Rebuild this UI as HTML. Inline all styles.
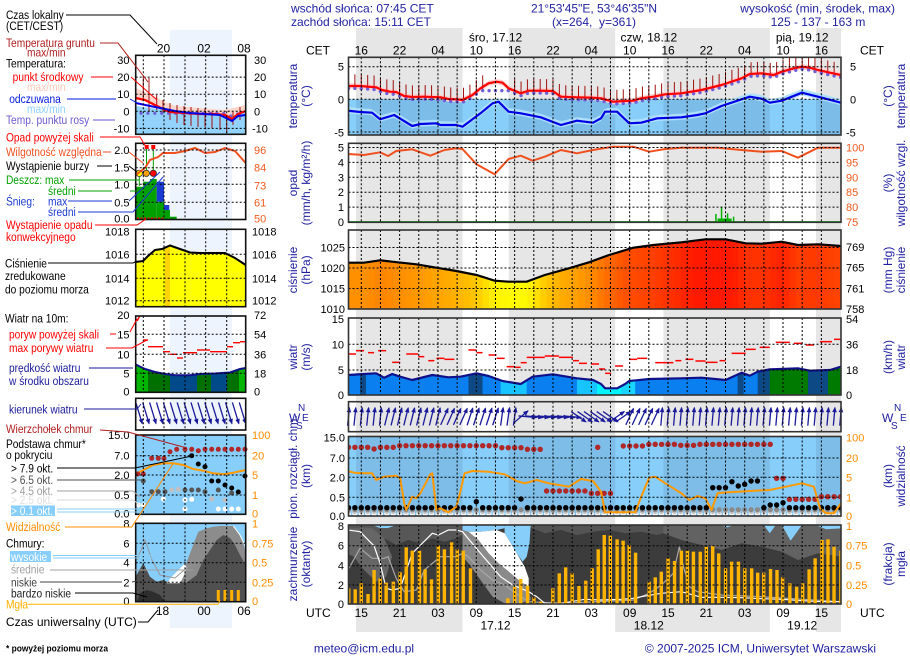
<!DOCTYPE html>
<html><head><meta charset="utf-8">
<style>
html,body{margin:0;padding:0;background:#fff;}
svg{display:block;font-family:"Liberation Sans",Arial,sans-serif;}
.nv{fill:#1f1f9f;font-size:12px}
.tk{font-size:11px;fill:#000}
.hr{font-size:12px;fill:#000}
</style></head><body>
<svg id="s" width="910" height="660" viewBox="0 0 910 660" xmlns="http://www.w3.org/2000/svg">
<defs id="defs">
<clipPath id="cMW"><polygon points="135.7,364.5 145,369 155,372 165,374 175,375.3 190,375.3 200,374 215,373.5 230,372.5 240,369 245.7,368 245.7,392.3 135.7,392.3"/></clipPath>
<clipPath id="cMP"><polygon points="135.7,262 143,261 148,256 155,250 162,249 170,245.5 180,249 190,252.5 200,253 225,253 235,258 245.7,265 245.7,306.7 135.7,306.7"/></clipPath>
</defs>
<g id="bg"><rect x="170" y="30" width="62" height="598" fill="#edf4fd"/></g>
<g id="data"></g>
<g id="mini">
<!-- mini temperature -->
<polygon points="135.7,88 150,94 165,102 175,106 200,108 225,110 245.7,105 245.7,112 238,115 232,120 225,116 215,115 200,115 185,114 170,113 165,111 155,106 145,101 135.7,99" fill="#ffd6cc"/>
<polygon points="135.7,106 150,108 165,110 180,112 200,113 225,114 232,119 238,115 245.7,111 245.7,134.3 135.7,134.3" fill="#93d3fb"/>
<g stroke="#a01010" stroke-width="1">
<line x1="143.3" y1="77" x2="143.3" y2="100"/><line x1="149" y1="78" x2="149" y2="112"/><line x1="156.7" y1="95" x2="156.7" y2="110"/><line x1="163" y1="100" x2="163" y2="112"/><line x1="170" y1="103" x2="170" y2="120"/><line x1="177" y1="105" x2="177" y2="123"/><line x1="184" y1="106" x2="184" y2="125"/><line x1="191" y1="107" x2="191" y2="126"/><line x1="198" y1="108" x2="198" y2="127"/><line x1="205" y1="108" x2="205" y2="127"/><line x1="212" y1="112" x2="212" y2="128"/><line x1="220" y1="115" x2="220" y2="130"/><line x1="226.7" y1="120" x2="226.7" y2="133"/><line x1="233" y1="112" x2="233" y2="125"/><line x1="240" y1="107" x2="240" y2="120"/>
</g>
<g fill="#6f5fd8"><circle cx="141" cy="113.3" r="1.6"/><circle cx="147.9" cy="113.3" r="1.6"/><circle cx="154.8" cy="113.3" r="1.6"/><circle cx="161.7" cy="113.3" r="1.6"/><circle cx="168.6" cy="113.3" r="1.6"/><circle cx="175.5" cy="113.3" r="1.6"/><circle cx="182.4" cy="113.3" r="1.6"/><circle cx="189.3" cy="113.3" r="1.6"/><circle cx="196.2" cy="113.3" r="1.6"/><circle cx="203.1" cy="113.3" r="1.6"/><circle cx="210" cy="113.3" r="1.6"/><circle cx="216.9" cy="113.3" r="1.6"/><circle cx="223.8" cy="113.3" r="1.6"/><circle cx="230.7" cy="116" r="1.6"/><circle cx="237.6" cy="114" r="1.6"/></g>
<polyline points="135.7,98 145,100 155,105 165,110 170,112 185,113 200,114 215,114 225,115 232,119 238,114 245.7,111" fill="none" stroke="#ff0000" stroke-width="2.2"/>
<polyline points="135.7,103 150,106 165,109 175,111 190,113 205,114 220,115 232,121 238,116 245.7,115" fill="none" stroke="#0000e6" stroke-width="2"/>
<!-- mini precip -->
<rect x="135.7" y="186.7" width="7.6" height="32.8" fill="#00a000"/>
<rect x="143.3" y="181.7" width="6.7" height="37.8" fill="#00a000"/>
<rect x="150" y="179" width="6.7" height="40.5" fill="#00a000"/>
<rect x="156.7" y="201.7" width="7.3" height="17.8" fill="#00a000"/>
<rect x="156.7" y="181.7" width="7.3" height="20" fill="#1a3ad0"/>
<rect x="164" y="205" width="5.3" height="5" fill="#1a3ad0"/>
<rect x="164" y="210" width="6" height="9.5" fill="#00a000"/>
<rect x="170" y="216.7" width="6.7" height="2.8" fill="#00a000"/>
<line x1="146.5" y1="149" x2="146.5" y2="173" stroke="#00a000" stroke-width="1"/>
<line x1="153.3" y1="149" x2="153.3" y2="173" stroke="#00a000" stroke-width="1"/>
<line x1="139.3" y1="173" x2="139.3" y2="186" stroke="#00a000" stroke-width="1"/>
<rect x="144.7" y="145" width="4" height="4" fill="#ff0000"/>
<rect x="151.3" y="145" width="4" height="4" fill="#ff0000"/>
<circle cx="139.3" cy="173.3" r="3.2" fill="#ffff00" stroke="#333" stroke-width="0.8"/>
<circle cx="146.3" cy="173.3" r="3.2" fill="#ffa000" stroke="#333" stroke-width="0.8"/>
<circle cx="153.3" cy="173.3" r="3.2" fill="#ff0000" stroke="#333" stroke-width="0.8"/>
<line x1="137" y1="218.3" x2="164" y2="218.3" stroke="#ff0000" stroke-width="1.5" stroke-dasharray="2,1.5"/>
<polyline points="135.7,175 145,168 150,160 158,157 163,153 175,153 185,151 195,148 205,153 215,152 225,148 235,151 245.7,163" fill="none" stroke="#f05020" stroke-width="2"/>
<!-- mini pressure -->
<g clip-path="url(#cMP)"><rect x="135.7" y="229.3" width="110" height="77.4" fill="#ffff00"/><rect x="165" y="229.3" width="5" height="77.4" fill="#ffd400"/></g>
<polyline points="135.7,262 143,261 148,256 155,250 162,249 170,245.5 180,249 190,252.5 200,253 225,253 235,258 245.7,265" fill="none" stroke="#000" stroke-width="2"/>
<!-- mini wind -->
<g clip-path="url(#cMW)">
<rect x="135.7" y="360" width="12.3" height="33" fill="#00b400"/><rect x="148" y="360" width="22" height="33" fill="#007000"/><rect x="170" y="360" width="27" height="33" fill="#004a8a"/><rect x="197" y="360" width="14" height="33" fill="#007000"/><rect x="211" y="360" width="16" height="33" fill="#004a8a"/><rect x="227" y="360" width="12" height="33" fill="#007000"/><rect x="239" y="360" width="6.7" height="33" fill="#00b400"/>
</g>
<polyline points="135.7,364.5 145,369 155,372 165,374 175,375.3 190,375.3 200,374 215,373.5 230,372.5 240,369 245.7,368" fill="none" stroke="#10108a" stroke-width="2"/>
<g stroke="#ff0000" stroke-width="1.4"><line x1="143" y1="340" x2="148" y2="340"/><line x1="148" y1="346.7" x2="163" y2="346.7"/><line x1="163" y1="351.7" x2="170" y2="351.7"/><line x1="170" y1="354.3" x2="177" y2="354.3"/><line x1="177" y1="358" x2="183" y2="358"/><line x1="183" y1="352.7" x2="197" y2="352.7"/><line x1="197" y1="350" x2="210" y2="350"/><line x1="210" y1="351.7" x2="227" y2="351.7"/><line x1="227" y1="346.7" x2="233" y2="346.7"/><line x1="233" y1="342.7" x2="240" y2="342.7"/><line x1="240" y1="341.7" x2="245.7" y2="341.7"/><line x1="137" y1="321" x2="139.5" y2="316.5"/></g>
<!-- mini cloud -->
<rect x="135.7" y="435" width="110" height="79.3" fill="#87cefa"/>
<polyline points="135.7,474 143.3,470 153.3,465 163.3,463.3 173.3,463.3 183.3,465 193.3,469 203.3,470.7 213.3,473.3 223.3,474.3 233.3,472.7 245.7,470" fill="none" stroke="#ff9900" stroke-width="2"/>
<g fill="#ffffff"><circle cx="138.3" cy="505" r="2.5"/><circle cx="143.3" cy="505" r="2.5"/><circle cx="163.3" cy="499" r="2.5"/><circle cx="185" cy="500" r="2.5"/><circle cx="191.7" cy="499.3" r="2.5"/><circle cx="218.3" cy="509" r="2.5"/><circle cx="225" cy="509" r="2.5"/><circle cx="231.7" cy="509" r="2.5"/><circle cx="238.3" cy="509" r="2.5"/><circle cx="185" cy="509" r="2.5"/></g>
<g fill="#c0c0c0"><circle cx="171.7" cy="490" r="2.5"/><circle cx="178.3" cy="489.3" r="2.5"/><circle cx="211.7" cy="499" r="2.5"/><circle cx="225" cy="500" r="2.5"/></g>
<g fill="#555"><circle cx="143.3" cy="481" r="2.5"/><circle cx="151.7" cy="491.7" r="2.5"/><circle cx="158.3" cy="491.7" r="2.5"/><circle cx="165" cy="491.7" r="2.5"/><circle cx="185" cy="490" r="2.5"/><circle cx="191.7" cy="490" r="2.5"/><circle cx="198.3" cy="490" r="2.5"/><circle cx="205" cy="491.7" r="2.5"/><circle cx="218.3" cy="490" r="2.5"/><circle cx="231.7" cy="493" r="2.5"/></g>
<g fill="#000"><circle cx="191.7" cy="455.7" r="2.5"/><circle cx="198.3" cy="464" r="2.5"/><circle cx="205" cy="466.7" r="2.5"/><circle cx="211.7" cy="481" r="2.5"/><circle cx="218.3" cy="481" r="2.5"/><circle cx="225" cy="485" r="2.5"/><circle cx="231.7" cy="488" r="2.5"/><circle cx="245" cy="476" r="2.5"/><circle cx="238.3" cy="492" r="2.5"/></g>
<g fill="#b02828"><circle cx="137.7" cy="474" r="2.5"/><circle cx="143.3" cy="474" r="2.5"/><circle cx="151.7" cy="458.3" r="2.5"/><circle cx="158.3" cy="458.3" r="2.5"/><circle cx="164" cy="458.3" r="2.5"/><circle cx="170" cy="451.7" r="2.5"/><circle cx="176.7" cy="449.3" r="2.5"/><circle cx="185" cy="449.3" r="2.5"/><circle cx="191.7" cy="449.3" r="2.5"/><circle cx="198.3" cy="450.7" r="2.5"/><circle cx="205" cy="449.3" r="2.5"/><circle cx="211.7" cy="449.3" r="2.5"/><circle cx="218.3" cy="449.3" r="2.5"/><circle cx="225" cy="449.3" r="2.5"/><circle cx="231.7" cy="449.3" r="2.5"/><circle cx="238.3" cy="449.3" r="2.5"/><circle cx="245" cy="449.3" r="2.5"/></g>
<!-- mini cloud cover -->
<rect x="135.7" y="523.3" width="110" height="78.4" fill="#87cefa"/>
<polygon points="180,601.7 180,580 185,566.7 190,553.3 195,540 198.3,531.7 206.7,528.3 213.3,526.7 220,526 233.3,526 238.3,531.7 243.3,543.3 245.7,553.3 245.7,601.7" fill="#8c8c8c"/>
<polygon points="135.7,576.7 139.3,570 143.3,563.3 146.7,570 150,576.7 156.7,581.7 163.3,580 170,583.3 176.7,581.7 186,583 196.7,575 203.3,560 210,550 216.7,540 223.3,535 230,538 235,545 240,555 245.7,565 245.7,601.7 135.7,601.7" fill="#505050"/>
<polygon points="136.7,601.7 140,593.3 146.7,590 153.3,591.7 160,595 165,601.7" fill="#2e2e2e"/>
<polygon points="166.7,583.3 171.7,576.7 176.7,571.7 181.7,566.7 185,563.3 186.7,568.3 183.3,576.7 180,583.3" fill="#ffffff"/>
<polyline points="233.3,526 240,535 245.7,546.7" fill="none" stroke="#fff" stroke-width="1"/>
<polyline points="137,560 145,540 152,560 160,575 175,578 190,565" fill="none" stroke="#999" stroke-width="1"/>
<g fill="#ffb000"><rect x="216.8" y="590" width="3" height="11.7"/><rect x="223.5" y="590" width="3" height="11.7"/><rect x="230.2" y="590" width="3" height="11.7"/><rect x="236.8" y="590" width="3" height="11.7"/></g>
</g>
<g id="grid"></g>
<g id="txt">
<!-- header -->
<text class="nv" x="291" y="12.5">wschód słońca: 07:45 CET</text>
<text class="nv" x="291" y="26">zachód słońca: 15:11 CET</text>
<text class="nv" x="594" y="12.5" text-anchor="middle">21°53'45"E, 53°46'35"N</text>
<text class="nv" x="594" y="26" text-anchor="middle">(x=264,&#160; y=361)</text>
<text class="nv" x="895" y="12.5" text-anchor="end">wysokość (min, środek, max)</text>
<text class="nv" x="818" y="26" text-anchor="middle">125 - 137 - 163 m</text>
<text class="hr" x="495.5" y="41.5" text-anchor="middle">śro, 17.12</text>
<text class="hr" x="648.8" y="41.5" text-anchor="middle">czw, 18.12</text>
<text class="hr" x="802.2" y="41.5" text-anchor="middle">pią, 19.12</text>
<text class="hr" x="306" y="54.5">CET</text>
<text class="hr" x="860" y="54.5">CET</text>
<g class="hr" text-anchor="middle">
<text x="361.3" y="54.5">16</text><text x="399.6" y="54.5">22</text><text x="438" y="54.5">04</text><text x="476.3" y="54.5">10</text><text x="514.6" y="54.5">16</text><text x="553" y="54.5">22</text><text x="591.3" y="54.5">04</text><text x="629.7" y="54.5">10</text><text x="668" y="54.5">16</text><text x="706.3" y="54.5">22</text><text x="744.7" y="54.5">04</text><text x="783" y="54.5">10</text><text x="821.4" y="54.5">16</text>
<text x="361.3" y="617">15</text><text x="399.6" y="617">21</text><text x="438" y="617">03</text><text x="476.3" y="617">09</text><text x="514.6" y="617">15</text><text x="553" y="617">21</text><text x="591.3" y="617">03</text><text x="629.7" y="617">09</text><text x="668" y="617">15</text><text x="706.3" y="617">21</text><text x="744.7" y="617">03</text><text x="783" y="617">09</text><text x="821.4" y="617">15</text>
<text x="495.5" y="629.5">17.12</text><text x="648.8" y="629.5">18.12</text><text x="802.2" y="629.5">19.12</text>
</g>
<text class="hr" x="306" y="617">UTC</text>
<text class="hr" x="860" y="617">UTC</text>
<!-- main left ticks -->
<g class="tk" text-anchor="end">
<text x="344" y="70.7">5</text><text x="344" y="103.3">0</text><text x="344" y="136.3">-5</text>
<text x="344" y="151.5">5</text><text x="344" y="166.4">4</text><text x="344" y="181.3">3</text><text x="344" y="196.2">2</text><text x="344" y="211.1">1</text><text x="344" y="226">0</text>
<text x="345" y="251.5">1025</text><text x="345" y="272">1020</text><text x="345" y="292.5">1015</text><text x="345" y="313">1010</text>
<text x="344" y="323">15</text><text x="344" y="348.3">10</text><text x="344" y="374">5</text><text x="344" y="399">0</text>
<text x="345" y="441.5">15.0</text><text x="345" y="462">7.0</text><text x="345" y="481.3">2.0</text><text x="345" y="501.3">0.5</text><text x="345" y="520">0.0</text>
<text x="344" y="530">8</text><text x="344" y="549.7">6</text><text x="344" y="569.7">4</text><text x="344" y="589">2</text><text x="344" y="608">0</text>
</g>
<g class="tk">
<text x="850" y="70.7">5</text><text x="850" y="103.3">0</text><text x="846" y="136.3">-5</text>
<g fill="#f05a1e"><text x="846" y="151.5">100</text><text x="846" y="166.4">95</text><text x="846" y="181.3">90</text><text x="846" y="196.2">85</text><text x="846" y="211.1">80</text><text x="846" y="226">75</text></g>
<text x="846" y="251">769</text><text x="846" y="271.7">765</text><text x="846" y="292.3">761</text><text x="846" y="313">758</text>
<text x="846" y="323">54</text><text x="846" y="348.3">36</text><text x="846" y="374">18</text><text x="846" y="399">0</text>
<g fill="#ff8c00"><text x="846" y="441.5">100</text><text x="846" y="462">20</text><text x="846" y="481.3">5</text><text x="846" y="501.3">1</text><text x="846" y="520">0</text>
<text x="846" y="530">1</text><text x="846" y="549.7">0.75</text><text x="846" y="569.7">0.5</text><text x="846" y="589">0.25</text><text x="846" y="608">0</text></g>
</g>
<!-- rotated titles -->
<g class="nv" text-anchor="middle">
<text transform="translate(297,96) rotate(-90)">temperatura</text><text transform="translate(310,96) rotate(-90)">(°C)</text>
<text transform="translate(297,183) rotate(-90)">opad</text><text transform="translate(310,183) rotate(-90)">(mm/h, kg/m²/h)</text>
<text transform="translate(297,270) rotate(-90)">ciśnienie</text><text transform="translate(310,270) rotate(-90)">(hPa)</text>
<text transform="translate(297,357) rotate(-90)">wiatr</text><text transform="translate(310,357) rotate(-90)">(m/s)</text>
<text transform="translate(297,467) rotate(-90)">pion. rozciągł. chm.</text><text transform="translate(310,476) rotate(-90)">(km)</text>
<text transform="translate(297,564) rotate(-90)">zachmurzenie</text><text transform="translate(310,564) rotate(-90)">(oktanty)</text>
<text transform="translate(892,96) rotate(-90)">(°C)</text><text transform="translate(905,96) rotate(-90)">temperatura</text>
<text transform="translate(892,183) rotate(-90)">(%)</text><text transform="translate(905,183) rotate(-90)">wilgotność wzgl.</text>
<text transform="translate(892,270) rotate(-90)">(mm Hg)</text><text transform="translate(905,270) rotate(-90)">ciśnienie</text>
<text transform="translate(892,357) rotate(-90)">(km/h)</text><text transform="translate(905,357) rotate(-90)">wiatr</text>
<text transform="translate(892,476) rotate(-90)">(km)</text><text transform="translate(905,476) rotate(-90)">widzialność</text>
<text transform="translate(892,564) rotate(-90)">(frakcja)</text><text transform="translate(905,564) rotate(-90)">mgła</text>
</g>
<g fill="#1f1f9f">
<text x="289" y="422" font-size="12">W</text><text x="298" y="411" font-size="10">N</text><text x="296" y="429" font-size="10">S</text><text x="302" y="421" font-size="10">E</text>
<text x="882" y="422" font-size="12">W</text><text x="894" y="411" font-size="10">N</text><text x="891" y="429" font-size="10">S</text><text x="900" y="421" font-size="10">E</text>
</g>
<!-- footer -->
<text class="nv" x="364" y="652.5" text-anchor="middle">meteo@icm.edu.pl</text>
<text class="nv" x="876" y="652.5" text-anchor="end">© 2007-2025 ICM, Uniwersytet Warszawski</text>
<text x="6" y="651.5" font-size="9" font-weight="bold" textLength="102" lengthAdjust="spacingAndGlyphs">* powyżej poziomu morza</text>
<!-- mini ticks -->
<g class="tk" text-anchor="end">
<text x="129.5" y="64">30</text><text x="129.5" y="81.1">20</text><text x="129.5" y="98.2">10</text><text x="129.5" y="115.3">0</text><text x="129.5" y="132.4">-10</text>
<text x="129.5" y="154">2.0</text><text x="129.5" y="171.7">1.5</text><text x="129.5" y="188.3">1.0</text><text x="129.5" y="206.3">0.5</text><text x="129.5" y="222.3">0.0</text>
<text x="129.5" y="235.7">1018</text><text x="129.5" y="258.3">1016</text><text x="129.5" y="282.3">1014</text><text x="129.5" y="304.7">1012</text>
<text x="129.5" y="319">20</text><text x="129.5" y="338.3">15</text><text x="129.5" y="358.3">10</text><text x="129.5" y="377.3">5</text><text x="129.5" y="395.7">0</text>
<text x="129.5" y="439">15.0</text><text x="129.5" y="459.7">7.0</text><text x="129.5" y="479">2.0</text><text x="129.5" y="499">0.5</text><text x="129.5" y="517.3">0.0</text>
<text x="129.5" y="527.3">8</text><text x="129.5" y="547.3">6</text><text x="129.5" y="566.7">4</text><text x="129.5" y="586.3">2</text><text x="129.5" y="605">0</text>
</g>
<g class="tk">
<text x="254" y="64">30</text><text x="254" y="81.1">20</text><text x="254" y="98.2">10</text><text x="254" y="115.3">0</text><text x="252" y="132.4">-10</text>
<g fill="#f05a1e"><text x="254" y="154">96</text><text x="254" y="171.7">84</text><text x="254" y="189.3">73</text><text x="254" y="206.3">61</text><text x="254" y="222.3">50</text></g>
<text x="252" y="235.7">1018</text><text x="252" y="258.3">1016</text><text x="252" y="282.3">1014</text><text x="252" y="304.7">1012</text>
<text x="254" y="319">72</text><text x="254" y="338.3">54</text><text x="254" y="358.3">36</text><text x="254" y="377.3">18</text><text x="254" y="395.7">0</text>
<g fill="#ff8c00"><text x="252" y="439">100</text><text x="252" y="459.7">20</text><text x="252" y="479">5</text><text x="252" y="499">1</text><text x="252" y="517.3">0</text>
<text x="252" y="527.3">1</text><text x="252" y="547.3">0.75</text><text x="252" y="566.7">0.5</text><text x="252" y="586.3">0.25</text><text x="252" y="605">0</text></g>
</g>
<g class="hr" text-anchor="middle">
<text x="163.5" y="52.5">20</text><text x="204" y="52.5">02</text><text x="244" y="52.5">08</text>
<text x="162.5" y="615">18</text><text x="204" y="615">00</text><text x="244" y="615">06</text>
</g>
<!-- legend leader lines -->
<g fill="none" stroke-width="1">
<polyline points="66,15 130,15 157,44" stroke="#000"/>
<polyline points="100,43 118,43 148,82" stroke="#b02020"/>
<polyline points="91,77 113,77" stroke="#ff0000"/><polyline points="131,77 157,100" stroke="#ff0000"/>
<polyline points="67,99 116,99" stroke="#0018e0"/><polyline points="130,99 137,103" stroke="#0018e0"/>
<polyline points="93,120 115,120" stroke="#6a5acd"/>
<polyline points="100,137 140,137 146,147" stroke="#ff0000"/>
<polyline points="103,152 111,152" stroke="#f05020"/><polyline points="129,152 143,163" stroke="#f05020"/>
<polyline points="97,166 112,166" stroke="#000"/><polyline points="129,166 137,172" stroke="#000"/>
<polyline points="69,180 139,180" stroke="#00a000"/>
<polyline points="78,191 112,191" stroke="#00a000"/><polyline points="130,191 136,191" stroke="#00a000"/>
<polyline points="68,201 112,201" stroke="#1a3ad0"/><polyline points="129,201 160,172" stroke="#1a3ad0"/>
<polyline points="78,212 133,212 163,177" stroke="#1a3ad0"/>
<polyline points="95,225 137,225 146,219" stroke="#ff0000"/>
<polyline points="48,263 133,263 137,261" stroke="#000"/>
<polyline points="110,334 116,334" stroke="#ff0000"/><polyline points="130,332 137,319" stroke="#ff0000"/>
<polyline points="106,348 132,348 147,340" stroke="#ff0000"/>
<polyline points="89,368 133,368" stroke="#1a1a9a"/>
<polyline points="84,409 137,409 141,404" stroke="#1a1a9a"/>
<polyline points="100,430 128,432 187,448" stroke="#b02020"/>
<polyline points="57,468 135,468 192,456" stroke="#000"/>
<polyline points="57,480 143,480" stroke="#505050"/>
<polyline points="57,491 133,491 140,497" stroke="#a0a0a0"/>
<polyline points="57,500 133,500 140,505" stroke="#d8d8d8"/>
<polyline points="57,509 137,509" stroke="#87cefa"/><polyline points="57,512 137,512" stroke="#87cefa"/>
<polyline points="65,527 131.7,527 173.3,463.3" stroke="#ff8c00"/>
<polyline points="53,555.5 187,555.5" stroke="#87cefa"/><polyline points="53,558 187,558" stroke="#87cefa"/>
<polyline points="50,570 193,570" stroke="#a0a0a0"/>
<polyline points="40,582 122,582" stroke="#404040"/><polyline points="132,582 137,581" stroke="#404040"/>
<polyline points="75,593 133,593 147,597" stroke="#000"/>
<polyline points="28,604.3 218,604.3 220,600" stroke="#ffb000"/>
<polyline points="138,622 148,622 158,610" stroke="#000"/>
</g>
<rect x="11" y="505.5" width="44" height="10.5" fill="#87cefa"/>
<rect x="10" y="551" width="41" height="11" fill="#87cefa"/>
<g transform="scale(0.85,1)" font-size="12" fill="#000">
<text x="7" y="19">Czas lokalny</text>
<text x="7" y="30">(CET/CEST)</text>
<text x="7" y="47" fill="#b02020">Temperatura gruntu</text>
<text x="31.8" y="56.5" fill="#b02020">max/min</text>
<text x="7" y="67.5">Temperatura:</text>
<text x="14.9" y="81" fill="#ff0000">punkt środkowy</text>
<text x="31.8" y="91" fill="#ffc8b8">max/min</text>
<text x="10.9" y="103" fill="#0018e0">odczuwana</text>
<text x="31.8" y="113" fill="#90d0ff">max/min</text>
<text x="7" y="124" fill="#6a5acd">Temp. punktu rosy</text>
<text x="7" y="141.5" fill="#ff0000">Opad powyżej skali</text>
<text x="7" y="156" fill="#f05020">Wilgotność względna</text>
<text x="7" y="170">Wystąpienie burzy</text>
<text x="7" y="184" fill="#00a000">Deszcz: max</text>
<text x="56.5" y="195" fill="#00a000">średni</text>
<text x="7" y="205.5" fill="#1a3ad0">Śnieg:</text>
<text x="56.5" y="205.5" fill="#1a3ad0">max</text>
<text x="56.5" y="216" fill="#1a3ad0">średni</text>
<text x="7" y="229" fill="#ff0000">Wystąpienie opadu</text>
<text x="7" y="241" fill="#ff0000">konwekcyjnego</text>
<text x="5.9" y="267.5">Ciśnienie</text>
<text x="5.9" y="280">zredukowane</text>
<text x="5.9" y="293.5">do poziomu morza</text>
<text x="5.9" y="322.5">Wiatr na 10m:</text>
<text x="10.6" y="338.5" fill="#ff0000">poryw powyżej skali</text>
<text x="10.6" y="352" fill="#ff0000">max porywy wiatru</text>
<text x="10.6" y="372" fill="#1a1a9a">prędkość wiatru</text>
<text x="10.6" y="385" fill="#1a1a9a">w środku obszaru</text>
<text x="10.6" y="413.5" fill="#1a1a9a">kierunek wiatru</text>
<text x="7" y="433" fill="#b02020">Wierzchołek chmur</text>
<text x="7" y="448">Podstawa chmur*</text>
<text x="7" y="459">o pokryciu</text>
<text x="12.9" y="472.5">&gt; 7.9 okt.</text>
<text x="12.9" y="484" fill="#505050">&gt; 6.5 okt.</text>
<text x="12.9" y="495" fill="#a0a0a0">&gt; 4.5 okt.</text>
<text x="12.9" y="504" fill="#e0e0e0">&gt; 2.5 okt.</text>
<text x="12.9" y="515" fill="#ffffff">&gt; 0.1 okt.</text>
<text x="7" y="531" fill="#ff8c00">Widzialność</text>
<text x="7" y="547.5">Chmury:</text>
<text x="12.9" y="561" fill="#ffffff">wysokie</text>
<text x="12.9" y="573.5" fill="#a0a0a0">średnie</text>
<text x="12.9" y="586.5" fill="#404040">niskie</text>
<text x="12.9" y="597.5" fill="#202020">bardzo niskie</text>
<text x="7" y="608.5" fill="#ffb000">Mgła</text>
<text x="7" y="626" textLength="154" lengthAdjust="spacingAndGlyphs">Czas uniwersalny (UTC)</text>
</g>
</g>
</svg>
<script>
(function(){
var NS='http://www.w3.org/2000/svg';
function E(p,t,a){var e=document.createElementNS(NS,t);for(var k in a)e.setAttribute(k,a[k]);p.appendChild(e);return e;}
function $(i){return document.getElementById(i);}
var XL=348.5,XR=841;
function ZX(z){return 356+(z-190)*0.4017;}
function tX(t){return XL+t*6.39;}
function X2Z(x){return 190+(x-356)/0.4017;}
function iz(a,z){if(z<=a[0][0])return a[0][1];for(var i=1;i<a.length;i++){if(z<=a[i][0]){var p=a[i-1],q=a[i];return p[1]+(q[1]-p[1])*(z-p[0])/(q[0]-p[0]);}}return a[a.length-1][1];}
function P(a,y0){return a.map(function(p){return ZX(p[0]).toFixed(1)+','+(y0+p[1]/3).toFixed(1);}).join(' ');}
function PR(a){return a.map(function(p){return p[0].toFixed(1)+','+p[1].toFixed(1);}).join(' ');}
var BG=$('bg'),D=$('data'),GR=$('grid'),DEF=$('defs');
var NB=[[356,462.5],[508.7,615.2],[663.4,769.8],[816,841]];
NB.forEach(function(b){E(BG,'rect',{x:b[0],y:28,width:b[1]-b[0],height:576,fill:'#e6e6e6'});});
[[356,462.5],[615.2,769.8],[816,841]].forEach(function(b){E(BG,'rect',{x:b[0],y:604,width:b[1]-b[0],height:28,fill:'#e6e6e6'});});
var SEG=[348.5,356,462.5,508.7,615.2,663.4,769.8,816,841];
function dn(p,y1,y2,dc,nc){for(var i=0;i<SEG.length-1;i++)E(p,'rect',{x:SEG[i],y:y1,width:SEG[i+1]-SEG[i]+0.3,height:y2-y1,fill:i%2?nc:dc});}
function clipR(id,x,y,w,h){var c=E(DEF,'clipPath',{id:id});E(c,'rect',{x:x,y:y,width:w,height:h});}

/* ---------- temperature ---------- */
var RED=[[170,258],[200,258],[240,262],[255,270],[275,275],[290,276],[310,288],[330,291],[360,290],[400,292],[420,297],[440,298],[455,300],[480,285],[500,265],[520,250],[540,245],[555,248],[570,265],[600,280],[620,272],[650,272],[680,273],[700,290],[740,292],[780,293],[800,295],[830,305],[860,303],[880,302],[900,295],[930,290],[960,283],[1000,280],[1050,270],[1100,255],[1130,243],[1150,235],[1170,222],[1200,220],[1230,225],[1250,215],[1280,205],[1300,200],[1320,203],[1340,210],[1370,218],[1397,225]];
var BLU=[[170,332],[200,336],[230,338],[250,358],[285,345],[330,378],[350,372],[390,370],[400,375],[440,375],[455,380],[500,340],[530,310],[545,305],[570,335],[600,340],[650,352],[700,375],[740,362],[780,368],[800,355],[810,335],[840,335],[870,370],[900,368],[940,355],[1000,352],[1040,345],[1060,340],[1100,318],[1150,298],[1170,290],[1200,296],[1220,308],[1250,302],[1300,278],[1340,290],[1397,308]];
clipR('cT',XL,57.3,XR-XL,77.7);
var gT=E(D,'g',{'clip-path':'url(#cT)'});
dn(gT,99.3,135,'#87cefa','#7cbce8');
var up=[],lo=[],bu=[],bl=[];
for(var t=0;t<=77;t+=0.5){var x=tX(t),z=X2Z(x),r=iz(RED,z),b=iz(BLU,z);up.push([x,r/3-2.6]);lo.push([x,r/3+2.6]);bu.push([x,b/3-3.6]);bl.push([x,b/3+2.6]);}
E(gT,'polygon',{points:PR(bu.concat(bl.slice().reverse())),fill:'#aee0fd'});
E(gT,'polygon',{points:PR(up.concat(lo.slice().reverse())),fill:'#ffcfcf'});
for(var t=1;t<=76;t++){var x=tX(t),z=X2Z(x);if(z>515&&z<575)continue;var r=iz(RED,z);E(gT,'line',{x1:x,x2:x,y1:(r-35)/3,y2:(r+10)/3,stroke:'#a01010','stroke-width':1});}
for(var t=0;t<=77;t++){var x=tX(t),z=X2Z(x),r=iz(RED,z),d=r+7;if(z>480&&z<585)d=Math.max(d,272);E(gT,'circle',{cx:x,cy:d/3,r:1.7,fill:'#6f5fd8'});}
E(gT,'polyline',{points:P(RED,0),fill:'none',stroke:'#ff0000','stroke-width':2.2,'stroke-linejoin':'round'});
E(gT,'polyline',{points:P(BLU,0),fill:'none',stroke:'#0000e6','stroke-width':2.2,'stroke-linejoin':'round'});

/* ---------- precip / RH ---------- */
var RH=[[170,57],[210,60],[250,52],[270,63],[290,48],[330,43],[375,62],[410,45],[440,40],[455,42],[490,88],[535,118],[570,72],[600,62],[630,77],[660,65],[700,45],[740,55],[780,45],[830,35],[880,35],[920,50],[960,42],[1000,38],[1090,38],[1150,45],[1200,50],[1250,48],[1290,68],[1340,38],[1397,38]];
E(D,'line',{x1:XL,x2:XR,y1:221.6,y2:221.6,stroke:'#00a000','stroke-width':1});
[[1086,237],[1100,215],[1115,235],[1130,245]].forEach(function(s){var x=ZX(s[0]);E(D,'line',{x1:x,x2:x,y1:222,y2:135+s[1]/3,stroke:'#00b000','stroke-width':1.5});});
E(D,'rect',{x:ZX(1090),y:218.5,width:ZX(1125)-ZX(1090),height:3.5,fill:'#00b000'});
E(D,'polyline',{points:P(RH,135),fill:'none',stroke:'#f0501e','stroke-width':2,'stroke-linejoin':'round'});

/* ---------- pressure ---------- */
var PRS=[[170,383],[210,383],[250,376],[280,380],[340,388],[390,398],[440,408],[490,420],[535,437],[570,440],[615,440],[660,420],[720,400],[770,382],[820,360],[880,338],[930,330],[1000,322],[1060,313],[1110,313],[1160,325],[1200,326],[1250,320],[1290,330],[1340,328],[1397,333]];
var PS=[[1016.5,[255,255,0]],[1017.5,[255,225,0]],[1018.5,[255,195,0]],[1019.5,[255,172,0]],[1021,[255,150,0]],[1022.5,[255,120,0]],[1024,[255,88,0]],[1025.5,[255,66,0]],[1026.7,[255,25,0]]];
function pc(p){var c;if(p<=PS[0][0])c=PS[0][1];else{c=PS[PS.length-1][1];for(var i=1;i<PS.length;i++){if(p<=PS[i][0]){var f=(p-PS[i-1][0])/(PS[i][0]-PS[i-1][0]),a=PS[i-1][1],b=PS[i][1];c=[0,1,2].map(function(k){return Math.round(a[k]+(b[k]-a[k])*f);});break;}}}return 'rgb('+c.join(',')+')';}
var cp=E(DEF,'clipPath',{id:'cP'});E(cp,'polygon',{points:P(PRS,135)+' 841,309 348.5,309'});
var gP=E(D,'g',{'clip-path':'url(#cP)'});
for(var t=0;t<77;t++){var x=tX(t),z=X2Z(x+3.2),y=135+iz(PRS,z)/3,p=1010+(309-y)/4.1;E(gP,'rect',{x:x,y:230,width:Math.min(6.8,XR-x),height:79,fill:pc(p)});}
E(D,'polyline',{points:P(PRS,135),fill:'none',stroke:'#000','stroke-width':2.2});

/* ---------- wind ---------- */
var WND=[[170,195],[210,192],[240,190],[260,203],[280,192],[300,200],[330,210],[380,195],[420,202],[450,200],[490,190],[520,198],[555,213],[600,222],[630,200],[680,193],[740,205],[780,210],[800,222],[810,235],[840,235],[860,222],[870,213],[920,207],[1000,205],[1050,203],[1110,210],[1150,188],[1170,197],[1190,185],[1220,178],[1290,175],[1320,182],[1370,180],[1397,170]];
var cw=E(DEF,'clipPath',{id:'cW'});E(cw,'polygon',{points:P(WND,310)+' 841,395 348.5,395'});
var gW=E(D,'g',{'clip-path':'url(#cW)'});
var WS=[[170,200,'#0a7ff0'],[200,215,'#0d4a85'],[215,470,'#0a7ff0'],[470,505,'#0d4a85'],[505,550,'#0a7ff0'],[550,615,'#18c4ff'],[615,740,'#0a7ff0'],[740,790,'#18c4ff'],[790,850,'#00f5ff'],[850,885,'#18d4ff'],[885,1140,'#0a7ff0'],[1140,1155,'#0d4a85'],[1155,1190,'#0a7ff0'],[1190,1220,'#0d4a85'],[1220,1315,'#007a00'],[1315,1365,'#0d4a85'],[1365,1400,'#007a00']];
WS.forEach(function(s){E(gW,'rect',{x:ZX(s[0]),y:318,width:ZX(s[1])-ZX(s[0])+0.4,height:77,fill:s[2]});});
E(D,'polyline',{points:P(WND,310),fill:'none',stroke:'#10108a','stroke-width':2.2,'stroke-linejoin':'round'});
var GU=[[170,190,132],[190,210,122],[220,235,128],[245,265,122],[280,300,157],[315,345,132],[345,360,140],[370,385,152],[390,410,145],[410,435,148],[470,490,120],[490,505,128],[520,540,135],[540,560,145],[565,585,170],[585,600,172],[600,615,158],[615,660,142],[660,695,138],[695,730,142],[730,745,152],[745,765,160],[775,795,162],[795,810,177],[810,825,190],[835,855,168],[870,890,148],[890,915,145],[935,965,158],[965,980,158],[985,1000,152],[1010,1030,148],[1035,1060,153],[1060,1090,157],[1095,1110,152],[1125,1160,130],[1160,1185,118],[1195,1220,112],[1235,1270,97],[1280,1300,100],[1310,1330,105],[1345,1375,95],[1380,1397,88]];
GU.forEach(function(g){var y=310+g[2]/3;E(D,'line',{x1:Math.max(XL,ZX(g[0])),x2:ZX(g[1]),y1:y,y2:y,stroke:'#ff0000','stroke-width':1.5});});

/* ---------- wind direction ---------- */
function ang(z){if(z<260)return 6;if(z<400)return 14;if(z<470)return 24;if(z<540)return 18;if(z<585)return 8;if(z<605)return 50;if(z<740)return 95;if(z<830)return 125;if(z<870)return 55;if(z<950)return 25;return 5;}
function arrow(p,x,cy,deg,L,col){var a=deg*Math.PI/180,hx=Math.sin(a),hy=-Math.cos(a),x1=x-hx*L,y1=cy-hy*L,x2=x+hx*L,y2=cy+hy*L,px=-hy,py=hx;
E(p,'line',{x1:x1,y1:y1,x2:x2,y2:y2,stroke:col,'stroke-width':1.3});
E(p,'polygon',{points:[[x2+hx,y2+hy],[x2-hx*4.5+px*2.3,y2-hy*4.5+py*2.3],[x2-hx*4.5-px*2.3,y2-hy*4.5-py*2.3]].map(function(q){return q[0].toFixed(1)+','+q[1].toFixed(1);}).join(' '),fill:col});}
for(var t=0;t<=77;t++){var x=tX(t);arrow(D,x,416.7,ang(X2Z(x)),9,'#1a1a9a');}
for(var x=139;x<=246;x+=6.9){arrow(D,x,413,163,11,'#1a1a9a');}

/* ---------- cloud heights ---------- */
dn(D,436.5,516,'#87cefa','#7dbde8');
var VIS=[[170,138],[185,143],[210,145],[230,145],[240,165],[260,155],[290,152],[300,160],[310,235],[315,255],[330,215],[340,220],[350,205],[375,148],[380,145],[390,255],[400,250],[420,262],[440,245],[450,200],[460,145],[480,138],[520,140],[560,148],[590,168],[610,175],[640,165],[670,175],[720,185],[750,162],[780,168],[800,200],[810,262],[870,262],[885,262],[900,215],[920,158],[935,155],[960,175],[1000,205],[1020,225],[1040,213],[1060,220],[1075,255],[1090,205],[1100,203],[1140,200],[1180,197],[1220,195],[1260,185],[1300,175],[1330,185],[1345,250],[1360,265],[1380,265],[1397,235]];
function topR(z){if(z<=655){if(z>=220&&z<=240)return 72;if(z>=285&&z<=545)return 62;if(z>545&&z<=605)return 68;if(z>605)return 73;return 67;}if(z>=782&&z<=798)return 67;if(z>=848&&z<=912)return 63;if(z>912&&z<=1225)return (z>995&&z<1045)?61:58;return null;}
function lowR(z){if(z>=655&&z<=765)return 198;if(z>=770&&z<=835)return 205;if(z>=1232&&z<=1258)return 160;if(z>=1265&&z<=1338)return 223;if(z>1338)return 215;return null;}
var EX=[[490,230],[600,222],[1075,188],[1092,188],[1110,188],[1125,170],[1145,183],[1160,178],[1175,168],[1195,168],[1220,240],[1240,240],[1255,233]];
function blk(z){for(var i=0;i<EX.length;i++)if(Math.abs(z-EX[i][0])<8)return EX[i][1];return 248;}
clipR('cC',XL,436.5,XR-XL,79.5);
var gC=E(D,'g',{'clip-path':'url(#cC)'});
for(var t=0;t<=77;t++){var x=tX(t),z=X2Z(x);
E(gC,'circle',{cx:x,cy:425+266/3,r:2.6,fill:'#ffffff'});
E(gC,'circle',{cx:x,cy:425+260/3,r:2.6,fill:'#c8c8c8'});
E(gC,'circle',{cx:x,cy:425+254/3,r:2.6,fill:'#8a8a8a'});
E(gC,'circle',{cx:x,cy:425+blk(z)/3,r:2.7,fill:'#000'});
var tr=topR(z);if(tr!==null)E(gC,'circle',{cx:x,cy:425+tr/3,r:2.7,fill:'#b02828'});
var lr=lowR(z);if(lr!==null)E(gC,'circle',{cx:x,cy:425+lr/3,r:2.7,fill:'#b02828'});}
E(gC,'polyline',{points:P(VIS,425),fill:'none',stroke:'#ff9900','stroke-width':2,'stroke-linejoin':'round'});

/* ---------- cloud cover ---------- */
clipR('cV',XL,525,XR-XL,79);
var gV=E(D,'g',{'clip-path':'url(#cV)'});
E(gV,'rect',{x:XL,y:525,width:XR-XL,height:79,fill:'#3c3c3c'});
function ZP(a){return a.map(function(p){return ZX(p[0]).toFixed(1)+','+(520+p[1]/3).toFixed(1);}).join(' ');}
E(gV,'polygon',{points:ZP([[165,15],[455,15],[455,45],[440,55],[410,65],[380,55],[350,70],[320,60],[290,75],[260,55],[230,70],[200,50],[165,60]]),fill:'#575757'});
E(gV,'polygon',{points:ZP([[165,25],[230,25],[260,55],[280,110],[265,170],[240,185],[210,150],[185,110],[165,100]]),fill:'#666'});
E(gV,'polygon',{points:ZP([[620,15],[1400,15],[1400,65],[1370,55],[1340,75],[1300,60],[1280,85],[1260,100],[1220,45],[1180,55],[1140,40],[1100,50],[1060,35],[1020,45],[980,30],[940,45],[900,35],[860,40],[820,30],[780,35],[740,45],[700,30],[660,40],[620,20]]),fill:'#545454'});
E(gV,'polygon',{points:ZP([[955,15],[1400,15],[1400,110],[1340,100],[1290,120],[1250,95],[1200,80],[1150,70],[1100,90],[1050,75],[1000,60],[955,40]]),fill:'#626262'});
E(gV,'polygon',{points:ZP([[455,30],[470,35],[495,60],[520,100],[545,130],[575,160],[600,185],[620,200],[625,240],[600,250],[560,250],[530,230],[500,180],[470,130],[455,110]]),fill:'#8a8a8a'});
var SK=[[[455,15],[560,15],[560,25],[540,30],[500,35],[470,35],[455,30]],[[560,15],[625,15],[622,70],[615,110],[605,125],[590,100],[575,70],[560,40]],[[230,15],[290,15],[270,24],[250,24]],[[1095,15],[1130,15],[1115,22]],[[1205,15],[1235,15],[1220,40]],[[1250,15],[1300,15],[1272,62]],[[1335,15],[1400,15],[1400,25],[1360,28]]];
SK.forEach(function(s){E(gV,'polygon',{points:ZP(s),fill:'#87cefa'});});
E(gV,'polygon',{points:ZP([[470,35],[500,35],[540,30],[560,40],[575,70],[590,100],[610,140],[620,175],[620,200],[600,185],[575,160],[545,130],[520,100],[495,60]]),fill:'#ffffff'});
var LGR=[[170,150],[200,85],[230,115],[260,115],[270,110],[290,175],[310,215],[340,210],[360,150],[400,110],[440,110],[455,100],[470,110],[500,150],[530,180],[560,195],[600,230],[620,245],[700,250],[880,240],[920,220],[950,195],[980,160],[995,80],[1005,140],[1020,200],[1040,215],[1100,225],[1200,230],[1397,245]];
var WHT=[[170,30],[200,35],[235,78],[250,130],[265,205],[280,210],[300,205],[330,100],[380,40],[395,45],[420,30],[440,30],[455,35],[500,100],[550,170],[580,195],[620,215],[640,230],[660,250],[700,250],[760,238],[800,240],[850,238],[880,235],[900,230],[950,220],[1000,215],[1050,232],[1100,232],[1150,233],[1200,236],[1250,238],[1300,242],[1350,245],[1397,245]];
E(gV,'polyline',{points:P(LGR,520),fill:'none',stroke:'#a8a8a8','stroke-width':1.2});
E(gV,'polyline',{points:P(WHT,520),fill:'none',stroke:'#ffffff','stroke-width':1.2});
var FOG=[[172,205],[188,208],[203,190],[220,222],[235,150],[250,175],[265,188],[283,185],[300,157],[315,82],[330,92],[348,92],[362,148],[378,178],[395,77],[410,88],[428,67],[442,88],[457,92],[475,145],[568,235],[585,200],[600,177],[617,197],[633,232],[650,245],[680,205],[696,160],[712,142],[728,160],[745,198],[762,182],[778,145],[793,88],[808,45],[823,47],[840,58],[855,62],[870,75],[886,98],[920,185],[935,172],[950,155],[967,115],[983,123],[1000,92],[1015,92],[1030,95],[1047,95],[1062,80],[1078,78],[1093,100],[1110,145],[1125,125],[1142,125],[1158,145],[1175,145],[1190,158],[1205,158],[1222,147],[1238,150],[1252,172],[1270,190],[1287,200],[1302,190],[1318,148],[1333,115],[1350,60],[1365,58],[1380,80],[1397,92]];
FOG.forEach(function(f){var y=520+f[1]/3;E(gV,'rect',{x:ZX(f[0])-1.7,y:y,width:3.4,height:604-y,fill:'#ffb400'});});

/* ---------- grids & boxes ---------- */
var PN=[[57.3,135,[66.7,99.3,132]],[143.3,222.3,[147.5,162.4,177.3,192.2,207.1]],[230,309,[247.5,268,288.5]],[318,395,[344.3,370]],[401.7,431.7,[]],[436.5,516,[458,477.3,497.3]],[525,604,[545.7,565.7,585]]];
PN.forEach(function(p){
for(var t=2;t<77;t+=3){var x=tX(t);E(GR,'line',{x1:x,x2:x,y1:p[0],y2:p[1],stroke:'#000','stroke-width':1,'stroke-dasharray':'2,2'});}
p[2].forEach(function(y){E(GR,'line',{x1:XL,x2:XR,y1:y,y2:y,stroke:'#000','stroke-width':1,'stroke-dasharray':'2,2'});});
E(GR,'rect',{x:XL,y:p[0],width:XR-XL,height:p[1]-p[0],fill:'none',stroke:'#333','stroke-width':1.6});});
var MV=[143.3,164,185,205.7,226.7];
var MP=[[55.3,134.3,[77.1,94.2,111.3,128.4]],[143.3,219.5,[150,167.7,184.3,202.3]],[229.3,306.7,[254.3,278.3,300.7]],[316,392.3,[334.3,354.3,373.3]],[398.3,430,[]],[435,514.3,[455.7,475,495]],[523.3,601.7,[543.3,562.7,582.3]]];
MP.forEach(function(p){
MV.forEach(function(x){E(GR,'line',{x1:x,x2:x,y1:p[0],y2:p[1],stroke:'#000','stroke-width':1,'stroke-dasharray':'2,2'});});
p[2].forEach(function(y){E(GR,'line',{x1:135.7,x2:245.7,y1:y,y2:y,stroke:'#000','stroke-width':1,'stroke-dasharray':'2,2'});});
E(GR,'rect',{x:135.7,y:p[0],width:110,height:p[1]-p[0],fill:'none',stroke:'#111','stroke-width':1.6});});
})();
</script>
</body></html>
